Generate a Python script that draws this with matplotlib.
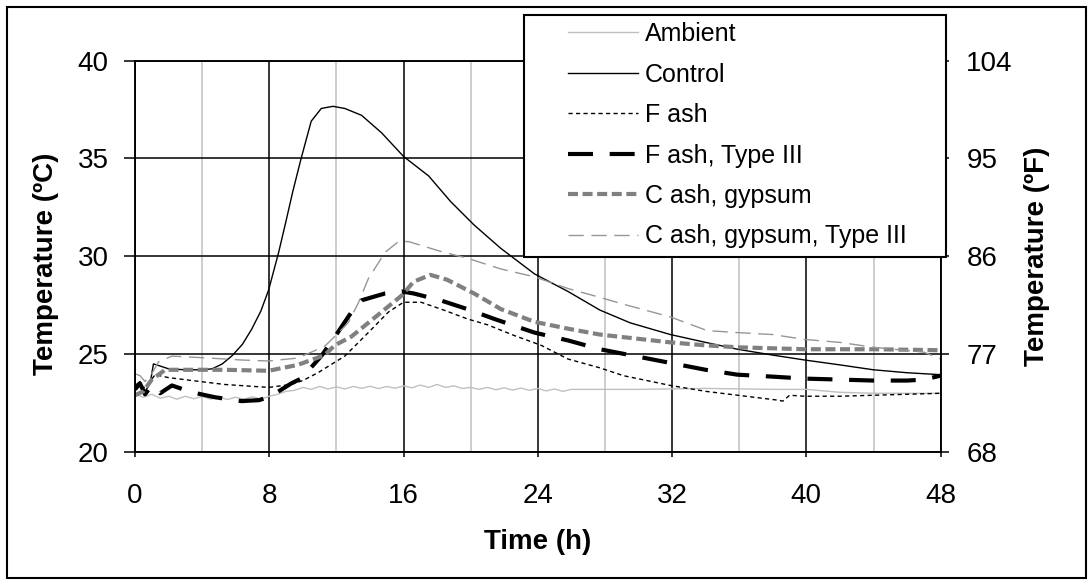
import matplotlib
matplotlib.use("Agg")
import matplotlib.pyplot as plt
from matplotlib.patches import Rectangle

plt.rcParams['font.family'] = ['Liberation Sans', 'DejaVu Sans']

## Ambient air
amb_t = [0, 0.5, 1, 1.5, 2, 2.5, 3, 3.5, 4, 4.5, 5, 5.5, 6, 6.5, 7, 7.5, 8, 8.5, 9, 9.5,
         10, 10.5, 11, 11.5, 12, 12.5, 13, 13.5, 14, 14.5, 15, 15.5, 16, 16.5, 17, 17.5,
         18, 18.5, 19, 19.5, 20, 20.5, 21, 21.5, 22, 22.5, 23, 23.5, 24, 24.5, 25, 25.5,
         26, 27, 30, 34, 38, 40, 42, 44, 48]
amb_T = [22.95, 22.8, 22.95, 22.75, 22.85, 22.7, 22.85, 22.72, 22.84, 22.7, 22.82, 22.68,
         22.8, 22.7, 22.82, 22.7, 22.85, 22.95, 23.1, 23.15, 23.3, 23.2, 23.35, 23.22,
         23.33, 23.22, 23.35, 23.25, 23.36, 23.24, 23.35, 23.26, 23.38, 23.28, 23.42, 23.3,
         23.45, 23.3, 23.38, 23.25, 23.3, 23.2, 23.3, 23.18, 23.28, 23.16, 23.27, 23.15,
         23.25, 23.12, 23.22, 23.1, 23.2, 23.2, 23.2, 23.25, 23.2, 23.2, 23.05, 23.0, 23.0]

## Control
ctl_t = [0, 0.3, 0.6, 0.9, 1.1, 1.3, 2, 3, 4, 4.6, 5.2, 5.8, 6.4, 6.95, 7.5, 7.96, 8.56,
         9.0, 9.4, 9.9, 10.5, 11.1, 11.8, 12.5, 13.5, 14.7, 16.0, 17.5, 18.8, 20.2, 21.8,
         23.8, 25.8, 27.7, 29.5, 31.9, 34, 35.9, 38, 39.9, 42, 44, 46, 48]
ctl_T = [23.4, 23.6, 23.1, 23.5, 24.5, 24.45, 24.25, 24.2, 24.2, 24.25, 24.5, 24.93, 25.5,
         26.27, 27.2, 28.27, 30.2, 31.8, 33.3, 35.0, 36.9, 37.55, 37.66, 37.55, 37.2, 36.3,
         35.1, 34.1, 32.8, 31.6, 30.4, 29.1, 28.2, 27.25, 26.6, 26.0, 25.6, 25.25, 24.95,
         24.7, 24.45, 24.2, 24.05, 23.95]

## F ash
fa_t = [0, 0.4, 0.8, 1.2, 2, 3.4, 5.35, 7.96, 9.3, 10.0, 10.9, 12.5, 13.9, 15.1, 16.0,
        17.05, 18.4, 19.8, 21.0, 22.6, 24.2, 25.8, 27.7, 29.1, 31.9, 34, 35.9, 38.3, 38.6,
        39.0, 39.9, 42, 44, 46, 48]
fa_T = [23.4, 23.2, 23.5, 23.95, 23.8, 23.65, 23.45, 23.3, 23.45, 23.65, 24.05, 24.9, 26.1,
        27.15, 27.65, 27.65, 27.25, 26.8, 26.5, 25.95, 25.45, 24.75, 24.3, 23.9, 23.4, 23.1,
        22.9, 22.65, 22.6, 22.9, 22.85, 22.85, 22.9, 22.95, 23.0]

## F ash, Type III
fa3_t = [0, 0.3, 0.6, 1.0, 1.5, 2.2, 3.4, 4.75, 6.35, 7.4, 8.1, 9.3, 9.9, 11.1, 12.0, 12.9,
         13.5, 14.9, 15.9, 16.6, 18.2, 19.8, 21.4, 23.8, 25.8, 27.7, 29.8, 31.9, 34, 35.9,
         38, 39.9, 42, 44, 46, 47, 48]
fa3_T = [23.2, 23.5, 22.95, 23.4, 23.0, 23.4, 23.05, 22.8, 22.6, 22.65, 22.85, 23.5, 23.75,
         24.9, 26.0, 27.15, 27.75, 28.1, 28.2, 28.1, 27.75, 27.3, 26.8, 26.1, 25.7, 25.25,
         24.9, 24.55, 24.2, 23.95, 23.85, 23.75, 23.7, 23.65, 23.65, 23.7, 23.9]

## C ash, gypsum
cg_t = [0, 0.5, 1.0, 1.8, 3.4, 5.35, 7.96, 9.7, 11.3, 11.9, 12.9, 13.9, 15.9, 16.6, 17.6,
        18.6, 20.2, 21.8, 23.8, 25.8, 27.7, 29.8, 31.9, 34, 35.9, 39.9, 44, 48]
cg_T = [22.9, 23.1, 23.7, 24.2, 24.2, 24.2, 24.15, 24.45, 24.95, 25.45, 25.9, 26.6, 28.0,
        28.7, 29.05, 28.8, 28.1, 27.3, 26.65, 26.3, 26.0, 25.8, 25.6, 25.45, 25.35, 25.25,
        25.25, 25.2]

## C ash, gypsum, Type III
cg3_t = [0, 0.3, 0.6, 1.0, 1.4, 2.2, 4.4, 6.35, 7.96, 9.7, 11.3, 11.9, 12.7, 13.3, 13.9,
         14.9, 15.7, 16.3, 18.2, 19.8, 21.8, 23.8, 25.8, 27.7, 29.1, 31.9, 34.1, 35.9, 38,
         39.9, 42, 44, 47, 48]
cg3_T = [24.0, 23.9, 23.6, 24.0, 24.6, 24.9, 24.8, 24.7, 24.65, 24.8, 25.4, 25.9, 26.6,
         27.6, 28.85, 30.2, 30.75, 30.75, 30.25, 29.9, 29.35, 28.95, 28.35, 27.9, 27.55,
         26.9, 26.2, 26.1, 26.0, 25.75, 25.6, 25.35, 25.1, 24.75]

fig = plt.figure(figsize=(10.92, 5.84), dpi=100)
ax = fig.add_axes([0.1236, 0.226, 0.7378, 0.6704])

l_amb, = ax.plot(amb_t, amb_T, color='#c0c0c0', lw=1.0, label='Ambient')
l_ctl, = ax.plot(ctl_t, ctl_T, color='black', lw=1.0, label='Control')
l_fa, = ax.plot(fa_t, fa_T, color='black', lw=1.0, ls=(0, (3, 2.4)), label='F ash')
l_fa3, = ax.plot(fa3_t, fa3_T, color='black', lw=3.0, ls=(0, (6, 4)), label='F ash, Type III')
l_cg, = ax.plot(cg_t, cg_T, color='#808080', lw=3.0, ls=(0, (2.4, 1.1)), label='C ash, gypsum')
l_cg3, = ax.plot(cg3_t, cg3_T, color='#969696', lw=1.0, ls=(0, (11, 5.5)),
                 label='C ash, gypsum, Type III')

ax.set_xlim(0, 48)
ax.set_ylim(20, 40)
ax.set_xticks(range(0, 49, 8))
ax.set_xticks(range(4, 48, 8), minor=True)
ax.set_yticks(range(20, 41, 5))
ax.set_axisbelow(True)
ax.grid(which='major', color='black', lw=1.1)
ax.grid(which='minor', axis='x', color='#c0c0c0', lw=1.1)
ax.tick_params(which='minor', length=0)
ax.tick_params(axis='both', which='major', direction='out', width=1.1,
               labelsize=20, colors='black')
ax.tick_params(axis='x', which='major', length=3.5, pad=18.5)
ax.tick_params(axis='y', which='major', length=8, pad=11)

ax2 = ax.twinx()
ax2.set_ylim(68, 104)
ax2.set_yticks([68, 77, 86, 95, 104])
ax2.tick_params(axis='y', direction='out', length=5.5, width=1.1, labelsize=20, pad=13)

for a in (ax, ax2):
    for s in a.spines.values():
        s.set_color('black')
        s.set_linewidth(1.1)

ax.set_xlabel('Time (h)', fontsize=20, fontweight='bold')
ax.set_ylabel('Temperature (ºC)', fontsize=20, fontweight='bold')
ax2.set_ylabel('Temperature (ºF)', fontsize=20, fontweight='bold')
ax.xaxis.set_label_coords(0.5, -0.197)
ax.yaxis.set_label_coords(-0.094, 0.48)
ax2.yaxis.set_label_coords(1.103, 0.5)

# legend box sits above the plot, partly outside the axes
fig.add_artist(Rectangle((524 / 1092, 1 - 257 / 584), 422 / 1092, 242 / 584,
                         transform=fig.transFigure, facecolor='white',
                         edgecolor='black', lw=1.5, zorder=2))
fig.legend(handles=[l_amb, l_ctl, l_fa, l_fa3, l_cg, l_cg3], loc='upper left',
           bbox_to_anchor=(568 / 1092, 1 - 22 / 584), frameon=False, fontsize=18,
           handlelength=2.8, handletextpad=0.28, labelspacing=0.66, borderpad=0,
           borderaxespad=0)

# outer border
fig.add_artist(Rectangle((7 / 1092, 6 / 584), 1079 / 1092, 571 / 584,
                         transform=fig.transFigure, facecolor='none',
                         edgecolor='black', lw=1.5, zorder=10))

fig.savefig('out.png', dpi=100)
